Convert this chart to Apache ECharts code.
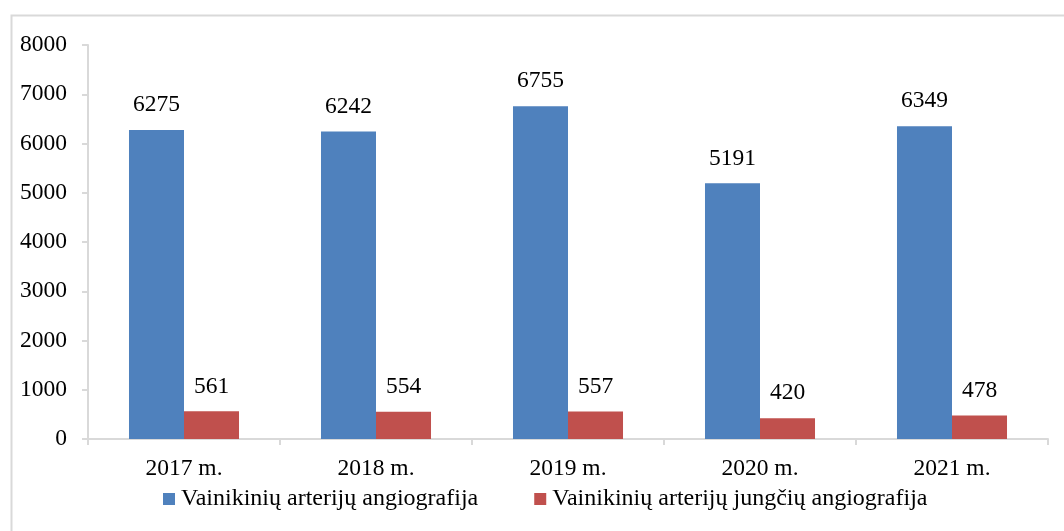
<!DOCTYPE html>
<html>
<head>
<meta charset="utf-8">
<script src="https://cdn.jsdelivr.net/npm/echarts@6/dist/echarts.min.js"></script>
<style>
html,body{margin:0;padding:0;background:#fff;}
#c{width:1064px;height:531px;}
</style>
</head>
<body>
<div id="c"></div>
<script>
const categories = ['2017 m.', '2018 m.', '2019 m.', '2020 m.', '2021 m.'];
const seriesNames = ['Vainikinių arterijų angiografija', 'Vainikinių arterijų jungčių angiografija'];
const angiografija = [6275, 6242, 6755, 5191, 6349];
const jungciuAngiografija = [561, 554, 557, 420, 478];

const FONT = '"Liberation Serif", "Times New Roman", serif';
const FS = 23.5;
const chart = echarts.init(document.getElementById('c'));
const labelStyle = {show: true, position: 'top', distance: 13, color: '#000', fontFamily: FONT, fontSize: FS};
chart.setOption({
  animation: false,
  textStyle: {fontFamily: FONT},
  graphic: [{
    type: 'rect', left: 9, top: 13,
    shape: {width: 1100, height: 560},
    style: {fill: 'none', stroke: '#d9d9d9', lineWidth: 2},
    silent: true
  }],
  grid: {left: 88, right: 16, top: 45, bottom: 92, containLabel: false},
  legend: {
    left: 163, top: 487, padding: 0,
    itemWidth: 12, itemHeight: 12, itemGap: 56,
    icon: 'rect',
    textStyle: {fontFamily: FONT, fontSize: 24, color: '#000', padding: [0, 0, 0, 1]},
    data: seriesNames
  },
  xAxis: {
    type: 'category',
    data: categories,
    axisLine: {lineStyle: {color: '#d9d9d9', width: 2}},
    axisTick: {show: true, length: 6, lineStyle: {color: '#d9d9d9', width: 2}},
    axisLabel: {color: '#000', fontFamily: FONT, fontSize: FS, margin: 18}
  },
  yAxis: {
    type: 'value', min: 0, max: 8000, interval: 1000,
    axisLine: {show: true, lineStyle: {color: '#d9d9d9', width: 2}},
    axisTick: {show: true, length: 6, lineStyle: {color: '#d9d9d9', width: 2}},
    splitLine: {show: false},
    axisLabel: {color: '#000', fontFamily: FONT, fontSize: FS, margin: 21, formatter: v => String(v)}
  },
  series: [
    {name: seriesNames[0], type: 'bar', data: angiografija, barGap: '0%', barCategoryGap: '42.7%',
     itemStyle: {color: '#4F81BD'}, label: labelStyle},
    {name: seriesNames[1], type: 'bar', data: jungciuAngiografija,
     itemStyle: {color: '#C0504D'}, label: labelStyle}
  ]
});
</script>
</body>
</html>
